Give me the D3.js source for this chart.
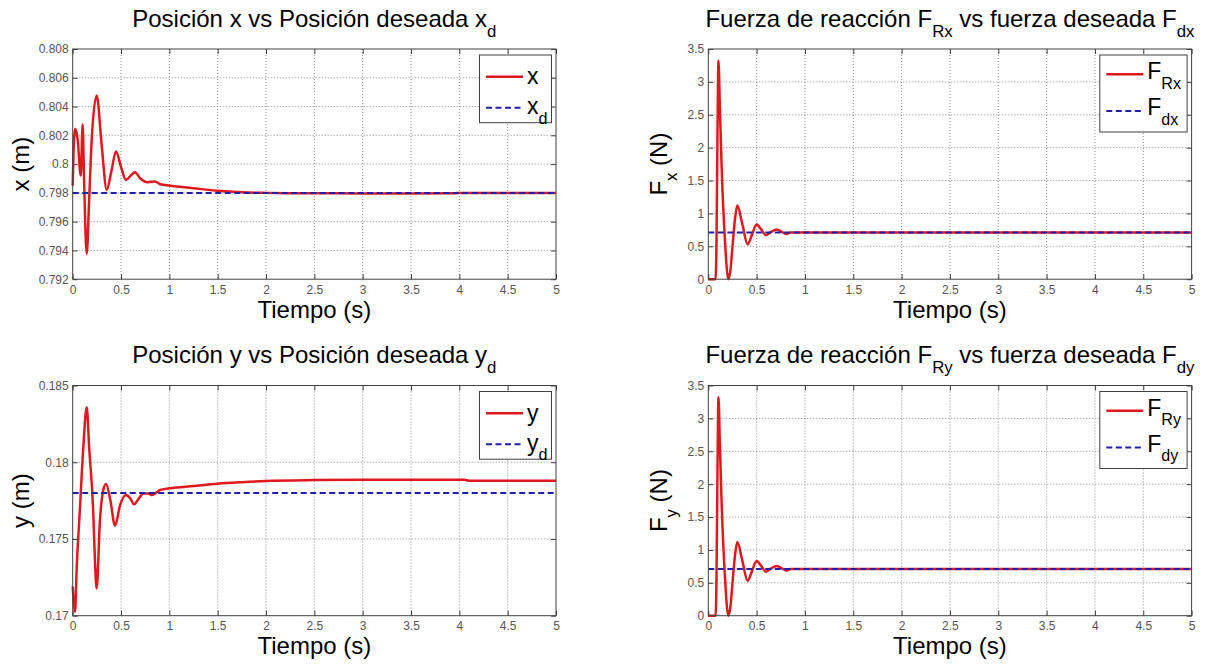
<!DOCTYPE html>
<html>
<head>
<meta charset="utf-8">
<script src="https://cdn.jsdelivr.net/npm/d3@7"></script>
<style>
  body { margin: 0; background: #fff; }
  svg { font-family: "Liberation Sans", Arial, Helvetica, sans-serif; }
</style>
</head>
<body>
<div id="chart"></div>
<script>
// ---- data ----
const timeTicks = [0, 0.5, 1, 1.5, 2, 2.5, 3, 3.5, 4, 4.5, 5];
const xTicks = [0.792, 0.794, 0.796, 0.798, 0.8, 0.802, 0.804, 0.806, 0.808];
const yTicks = [0.17, 0.175, 0.18, 0.185];
const fTicks = [0, 0.5, 1, 1.5, 2, 2.5, 3, 3.5];

// position x (m)
const timeX = [0, 0.012, 0.024, 0.05, 0.083, 0.103, 0.117, 0.145, 0.17, 0.196, 0.248, 0.3, 0.352,
  0.4, 0.448, 0.5, 0.551, 0.6, 0.644, 0.7, 0.772, 0.81, 0.851, 0.9, 1.0, 1.1, 1.25, 1.5, 1.75,
  2.0, 2.3, 2.6, 3.0, 3.5, 3.95, 4.0, 4.5, 5];
const posX = [0.7985, 0.8015, 0.80245, 0.8018, 0.7992, 0.80275, 0.7991, 0.79376, 0.7975, 0.8016,
  0.80477, 0.8013, 0.7982, 0.7995, 0.80087, 0.7998, 0.7989, 0.7992, 0.79943, 0.7990, 0.79874,
  0.79878, 0.79879, 0.79862, 0.79851, 0.79843, 0.79832, 0.79814, 0.79804, 0.798, 0.79798,
  0.79797, 0.79796, 0.79796, 0.79797, 0.798, 0.798, 0.798];
const xDesired = 0.798;

// position y (m)
const timeY = [0, 0.024, 0.042, 0.076, 0.11, 0.145, 0.17, 0.213, 0.23, 0.248, 0.282, 0.317, 0.345,
  0.39, 0.438, 0.49, 0.551, 0.6, 0.634, 0.68, 0.731, 0.78, 0.817, 0.86, 0.903, 1.0, 1.25, 1.5,
  1.75, 2.0, 2.5, 3.0, 3.5, 4.05, 4.1, 5];
const posY = [0.1719, 0.17026, 0.1732, 0.1771, 0.181, 0.18358, 0.181, 0.17667, 0.17363, 0.17178,
  0.17623, 0.1782, 0.17858, 0.1775, 0.17586, 0.1772, 0.17786, 0.1776, 0.17726, 0.1776, 0.17797,
  0.17796, 0.17786, 0.178, 0.17819, 0.1783, 0.17845, 0.1786, 0.1787, 0.17878, 0.17884, 0.17886,
  0.17886, 0.17886, 0.17879, 0.17879];
const yDesired = 0.178;

// reaction force (N), same in both force plots
const timeF = [0, 0.075, 0.085, 0.095, 0.105, 0.12, 0.138, 0.172, 0.207, 0.23, 0.25, 0.275, 0.3,
  0.35, 0.407, 0.45, 0.5, 0.55, 0.597, 0.65, 0.707, 0.76, 0.81, 0.85, 5];
const forceRx = [0, 0, 0.6, 2.2, 3.32, 2.6, 1.71, 0.6, 0, 0.15, 0.49, 0.9, 1.12, 0.85, 0.53, 0.67,
  0.83, 0.75, 0.67, 0.72, 0.755, 0.72, 0.686, 0.71, 0.71];
const forceRy = forceRx.slice();
const fDesired = 0.71;

// ---- layout ----
const W = 1210, H = 666;
const red = "#e0191e", blue = "#1f1fae";

const svg = d3.select("#chart").append("svg")
  .attr("width", W).attr("height", H);

function rich(sel, parts, size) {
  // parts: [text, isSub]
  let down = false;
  parts.forEach(p => {
    const sub = p[1];
    const ts = sel.append("tspan").text(p[0])
      .attr("font-size", sub ? size * 0.7 : size);
    if (sub && !down) { ts.attr("dy", size * 0.42); down = true; }
    else if (!sub && down) { ts.attr("dy", -size * 0.42); down = false; }
  });
}

const panels = [
  { left: 72.7, top: 49, t: timeX, v: posX, des: xDesired, dom: [0.792, 0.808], ticks: xTicks,
    title: [["Posición x vs Posición deseada x"], ["d", 1]], ylab: [["x (m)"]], ylabX: 29,
    leg: { w: 72, h: 67.7, l1: 21.7, l2: 52.7, b1: 29, b2: 59 },
    names: [[["x"]], [["x"], ["d", 1]]] },
  { left: 708.3, top: 49, t: timeF, v: forceRx, des: fDesired, dom: [0, 3.5], ticks: fTicks,
    title: [["Fuerza de reacción F"], ["Rx", 1], [" vs fuerza deseada F"], ["dx", 1]],
    ylab: [["F"], ["x", 1], [" (N)"]], ylabX: 667,
    leg: { w: 87.3, h: 77, l1: 19.3, l2: 56, b1: 24, b2: 60 },
    names: [[["F"], ["Rx", 1]], [["F"], ["dx", 1]]] },
  { left: 72.7, top: 385.5, t: timeY, v: posY, des: yDesired, dom: [0.17, 0.185], ticks: yTicks,
    title: [["Posición y vs Posición deseada y"], ["d", 1]], ylab: [["y (m)"]], ylabX: 29,
    leg: { w: 72, h: 67.7, l1: 21.7, l2: 52.7, b1: 29, b2: 59 },
    names: [[["y"]], [["y"], ["d", 1]]] },
  { left: 708.3, top: 385.5, t: timeF, v: forceRy, des: fDesired, dom: [0, 3.5], ticks: fTicks,
    title: [["Fuerza de reacción F"], ["Ry", 1], [" vs fuerza deseada F"], ["dy", 1]],
    ylab: [["F"], ["y", 1], [" (N)"]], ylabX: 667,
    leg: { w: 87.3, h: 77, l1: 19.3, l2: 56, b1: 24, b2: 60 },
    names: [[["F"], ["Ry", 1]], [["F"], ["dy", 1]]] }
];

const pw = 483.3, ph = 230.2;

panels.forEach(p => {
  const g = svg.append("g").attr("transform", "translate(" + p.left + "," + p.top + ")");
  const x = d3.scaleLinear().domain([0, 5]).range([0, pw]);
  const y = d3.scaleLinear().domain(p.dom).range([ph, 0]);

  // grid
  g.append("g").selectAll("line").data(timeTicks.slice(1, -1)).enter().append("line")
    .attr("x1", d => x(d)).attr("x2", d => x(d)).attr("y1", 0).attr("y2", ph)
    .attr("stroke", "#8c8c8c").attr("stroke-width", 1).attr("stroke-dasharray", "1,2");
  g.append("g").selectAll("line").data(p.ticks.slice(1, -1)).enter().append("line")
    .attr("y1", d => y(d)).attr("y2", d => y(d)).attr("x1", 0).attr("x2", pw)
    .attr("stroke", "#8c8c8c").attr("stroke-width", 1).attr("stroke-dasharray", "1,2");

  // axes with inward ticks
  const axB = g.append("g").attr("transform", "translate(0," + ph + ")")
    .call(d3.axisBottom(x).tickValues(timeTicks).tickSize(-5).tickPadding(6).tickFormat(d => String(d)));
  const axL = g.append("g")
    .call(d3.axisLeft(y).tickValues(p.ticks).tickSize(-5).tickPadding(4).tickFormat(d => String(d)));
  const axT = g.append("g")
    .call(d3.axisTop(x).tickValues(timeTicks).tickSize(-5).tickFormat(""));
  const axR = g.append("g").attr("transform", "translate(" + pw + ",0)")
    .call(d3.axisRight(y).tickValues(p.ticks).tickSize(-5).tickFormat(""));
  [axB, axL, axT, axR].forEach(a => {
    a.select(".domain").remove();
    a.selectAll(".tick line").attr("stroke", "#404040");
    a.selectAll(".tick text").attr("fill", "#555").attr("font-size", 12)
      .attr("font-family", "Liberation Sans, Arial, sans-serif");
  });

  // series
  const line = d3.line().x(d => x(d[0])).y(d => y(d[1])).curve(d3.curveMonotoneX);
  const pts = p.t.map((t, i) => [t, p.v[i]]);
  g.append("path").datum(pts).attr("d", line)
    .attr("fill", "none").attr("stroke", red).attr("stroke-width", 2.5)
    .attr("stroke-linejoin", "round");
  g.append("path").datum([[0, p.des], [5, p.des]]).attr("d", line)
    .attr("fill", "none").attr("stroke", blue).attr("stroke-width", 2)
    .attr("stroke-dasharray", "6,3.5");

  // box
  g.append("rect").attr("width", pw).attr("height", ph)
    .attr("fill", "none").attr("stroke", "#404040").attr("stroke-width", 1);

  // title
  const tt = g.append("text").attr("x", pw / 2).attr("y", -22.3)
    .attr("text-anchor", "middle").attr("fill", "#000");
  rich(tt, p.title, 24);

  // x label
  g.append("text").attr("x", pw / 2).attr("y", ph + 38.5).attr("text-anchor", "middle")
    .attr("font-size", 24).attr("fill", "#000").text("Tiempo (s)");

  // y label
  const yl = svg.append("text")
    .attr("transform", "translate(" + p.ylabX + "," + (p.top + ph / 2) + ") rotate(-90)")
    .attr("text-anchor", "middle").attr("fill", "#000");
  rich(yl, p.ylab, 24);

  // legend
  const L = p.leg;
  const lg = g.append("g").attr("transform", "translate(" + (pw - 4.5 - L.w) + ",6)");
  lg.append("rect").attr("width", L.w).attr("height", L.h)
    .attr("fill", "#fff").attr("stroke", "#404040").attr("stroke-width", 1);
  lg.append("line").attr("x1", 6.5).attr("x2", 43.5).attr("y1", L.l1).attr("y2", L.l1)
    .attr("stroke", red).attr("stroke-width", 2.5);
  lg.append("line").attr("x1", 6.5).attr("x2", 43.5).attr("y1", L.l2).attr("y2", L.l2)
    .attr("stroke", blue).attr("stroke-width", 2).attr("stroke-dasharray", "6,3.5");
  const n1 = lg.append("text").attr("x", 47.5).attr("y", L.b1).attr("fill", "#000");
  rich(n1, p.names[0], 23);
  const n2 = lg.append("text").attr("x", 47.5).attr("y", L.b2).attr("fill", "#000");
  rich(n2, p.names[1], 23);
});
</script>
</body>
</html>
